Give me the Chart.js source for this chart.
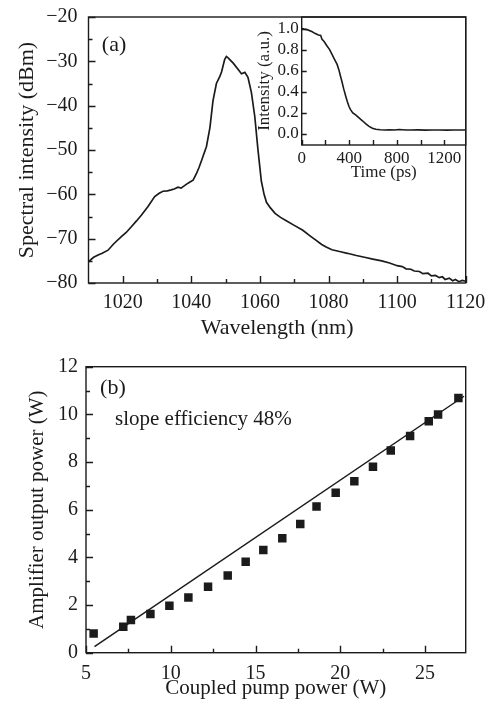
<!DOCTYPE html>
<html>
<head>
<meta charset="utf-8">
<title>Spectrum and amplifier output</title>
<script src="https://cdn.jsdelivr.net/npm/chart.js@4.4.0/dist/chart.umd.min.js"></script>
<style>
  html, body { margin: 0; padding: 0; background: #fff; }
  #wrap { position: relative; width: 495px; height: 709px; }
  canvas { position: absolute; }
  #specCanvas { left: 0; top: 0; }
  #insetCanvas { left: 230px; top: 0; }
  #powerCanvas { left: 0; top: 340px; }
</style>
</head>
<body>
<div id="wrap">
  <canvas id="specCanvas" width="495" height="340"></canvas>
  <canvas id="insetCanvas" width="265" height="190"></canvas>
  <canvas id="powerCanvas" width="495" height="369"></canvas>
</div>
<script>
// (a) spectrum
const wavelength = [1010, 1011.5, 1012.8, 1014, 1015.7, 1017.3, 1019.5, 1021, 1022.5, 1024, 1025.4, 1027.3,
  1029.3, 1030.5, 1031.7, 1033, 1034.1, 1035, 1036.1, 1037, 1038.6, 1039.6, 1040.5, 1041.5, 1042.2, 1043,
  1044.4, 1045.4, 1046.3, 1047.3, 1048.3, 1048.8, 1049.7, 1050.2, 1050.8, 1051.2, 1052.2, 1053.6, 1054.6,
  1055.6, 1056.5, 1057.5, 1058.5, 1059.4, 1060.4, 1061.2, 1061.9, 1063, 1064.4, 1066, 1067.8, 1070, 1072.5,
  1074.5, 1076.4, 1078, 1079.3, 1081, 1083.2, 1085.5, 1088.1, 1090.5, 1092.9, 1095.5, 1097.8, 1100, 1101.5,
  1102.6, 1104, 1105, 1106.5, 1107.5, 1109, 1110, 1111.2, 1112.3, 1113.2, 1114, 1115.2, 1116.2, 1117, 1118,
  1119, 1120];
const spectralDbm = [-75.2, -74.2, -73.7, -73.3, -72.6, -71.2, -69.6, -68.6, -67.3, -66.0, -64.7, -62.8,
  -60.5, -59.8, -59.3, -59.2, -59.0, -58.8, -58.4, -58.6, -57.7, -57.2, -56.8, -55.3, -54.0, -52.3,
  -49.2, -45.0, -38.9, -35.0, -33.4, -32.4, -29.6, -28.9, -29.3, -29.6, -30.4, -31.8, -32.8,
  -32.5, -33.6, -37.0, -42.5, -49.8, -57.0, -60.0, -61.8, -63.0, -64.3, -65.2, -66.0, -67.0, -68.1,
  -69.3, -70.4, -71.3, -71.9, -72.5, -72.9, -73.3, -73.8, -74.2, -74.6, -75.0, -75.5, -76.1, -76.3,
  -76.8, -76.9, -77.3, -77.4, -77.9, -77.8, -78.4, -78.3, -78.8, -78.6, -79.2, -78.9, -79.5, -79.2, -79.7,
  -79.4, -79.6];
const specXTicks = [1020, 1040, 1060, 1080, 1100, 1120];
const specXMinor = [1030, 1050, 1070, 1090, 1110];
const specYTicks = [-80, -70, -60, -50, -40, -30, -20];
const specYMinor = [-75, -65, -55, -45, -35, -25];

// (a) inset pulse
const timePs = [0, 20, 45, 85, 110, 141, 160, 170, 190, 213, 235, 255, 275, 298, 315, 326, 340, 354, 370,
  383, 398, 411, 430, 454, 480, 511, 540, 567, 595, 624, 660, 700, 737, 780, 820, 879, 920, 980, 1040,
  1100, 1160, 1220, 1280, 1340, 1380];
const pulseIntensity = [1.0, 0.995, 0.99, 0.972, 0.955, 0.94, 0.935, 0.9, 0.875, 0.835, 0.8, 0.755, 0.71,
  0.66, 0.6, 0.55, 0.49, 0.425, 0.36, 0.31, 0.26, 0.23, 0.2, 0.18, 0.155, 0.125, 0.095, 0.072, 0.055,
  0.045, 0.04, 0.038, 0.04, 0.037, 0.042, 0.038, 0.037, 0.039, 0.036, 0.038, 0.037, 0.036, 0.038, 0.037, 0.038];
const insetXTicks = [0, 400, 800, 1200];
const insetXMinor = [200, 600, 1000];
const insetYTicks = [0, 0.2, 0.4, 0.6, 0.8, 1.0];

// (b) amplifier output
const pumpPower = [5.45, 7.2, 7.65, 8.8, 9.92, 11.04, 12.2, 13.36, 14.42, 15.46, 16.58, 17.64, 18.6,
  19.73, 20.83, 21.93, 22.98, 24.12, 25.22, 25.77, 26.97];
const outputPower = [0.81, 1.09, 1.37, 1.62, 1.97, 2.32, 2.77, 3.24, 3.82, 4.31, 4.8, 5.4, 6.13,
  6.71, 7.19, 7.8, 8.48, 9.09, 9.71, 9.99, 10.69];
const fitPump = [5.5, 27.3];
const fitOutput = [0.25, 10.76];
const powerXTicks = [5, 10, 15, 20, 25];
const powerXMinor = [7.5, 12.5, 17.5, 22.5];
const powerYTicks = [0, 2, 4, 6, 8, 10, 12];
const powerYMinor = [1, 3, 5, 7, 9, 11];

const ink = '#1b1b1b';
const serif = '"Liberation Serif", "DejaVu Serif", serif';

function pts(xs, ys) {
  return xs.map((x, i) => ({ x: x, y: ys[i] }));
}
function minus(v) {
  return String(v).replace('-', '\u2212');
}

// box around the plot, inward ticks, panel notes
const frameTicks = {
  id: 'frameTicks',
  afterDatasetsDraw(chart, args, opts) {
    const ctx = chart.ctx;
    const a = chart.chartArea;
    const xs = chart.scales.x, ys = chart.scales.y;
    ctx.save();
    ctx.strokeStyle = ink;
    ctx.lineWidth = 1.4;
    ctx.strokeRect(a.left, a.top, a.right - a.left, a.bottom - a.top);
    ctx.beginPath();
    const xTick = (vals, len) => vals.forEach(v => {
      const p = Math.round(xs.getPixelForValue(v)) + 0.5;
      ctx.moveTo(p, a.bottom);
      ctx.lineTo(p, a.bottom - len);
    });
    const yTick = (vals, len) => vals.forEach(v => {
      const p = Math.round(ys.getPixelForValue(v)) + 0.5;
      ctx.moveTo(a.left, p);
      ctx.lineTo(a.left + len, p);
    });
    xTick(opts.xMajor, opts.major);
    xTick(opts.xMinor, opts.minor);
    yTick(opts.yMajor, opts.major);
    yTick(opts.yMinor, opts.minor);
    ctx.stroke();
    ctx.fillStyle = ink;
    ctx.textBaseline = 'middle';
    ctx.textAlign = 'left';
    opts.notes.forEach(n => {
      ctx.font = n.size + 'px ' + serif;
      ctx.fillText(n.text, xs.getPixelForValue(n.x), ys.getPixelForValue(n.y));
    });
    ctx.restore();
  }
};

function axis(o) {
  return {
    type: 'linear',
    min: o.min,
    max: o.max,
    afterBuildTicks: s => { s.ticks = o.ticks.map(v => ({ value: v })); },
    afterFit: s => {
      if (o.width) s.width = o.width;
      if (o.height) s.height = o.height;
      // keep label overhang from pushing the plot box
      s.paddingTop = 0; s.paddingBottom = 0;
      s.paddingLeft = 0; s.paddingRight = 0;
    },
    grid: { display: false, drawTicks: false },
    border: { display: false },
    ticks: {
      color: ink,
      font: { family: serif, size: o.tickSize },
      padding: o.pad,
      maxRotation: 0,
      autoSkip: false,
      callback: o.fmt
    },
    title: {
      display: true,
      text: o.title,
      color: ink,
      font: { family: serif, size: o.titleSize, lineHeight: 1 },
      padding: o.titlePad
    }
  };
}

const base = {
  responsive: false,
  animation: false,
  events: [],
  plugins: { legend: { display: false }, tooltip: { enabled: false } }
};

new Chart(document.getElementById('specCanvas'), {
  type: 'line',
  data: {
    datasets: [{
      data: pts(wavelength, spectralDbm),
      borderColor: ink,
      borderWidth: 1.7,
      pointRadius: 0,
      tension: 0
    }]
  },
  options: Object.assign({}, base, {
    layout: { padding: { top: 17, right: 29.3, left: 0, bottom: 0 } },
    scales: {
      x: axis({ min: 1010, max: 1120, ticks: specXTicks, height: 57, tickSize: 20, pad: 8,
        title: 'Wavelength (nm)', titleSize: 22, titlePad: { top: 0, bottom: 1 }, fmt: v => String(v) }),
      y: axis({ min: -80, max: -20, ticks: specYTicks, width: 88.5, tickSize: 20, pad: 11,
        title: 'Spectral intensity (dBm)', titleSize: 22, titlePad: { top: 16, bottom: 0 }, fmt: minus })
    },
    plugins: Object.assign({}, base.plugins, {
      frameTicks: {
        xMajor: specXTicks, xMinor: specXMinor, yMajor: specYTicks, yMinor: specYMinor,
        major: 7, minor: 4,
        notes: [{ text: '(a)', x: 1013.9, y: -26.3, size: 22 }]
      }
    })
  }),
  plugins: [frameTicks]
});

new Chart(document.getElementById('insetCanvas'), {
  type: 'line',
  data: {
    datasets: [{
      data: pts(timePs, pulseIntensity),
      borderColor: ink,
      borderWidth: 1.6,
      pointRadius: 0,
      tension: 0
    }]
  },
  options: Object.assign({}, base, {
    layout: { padding: { top: 17, right: 29.3, left: 0, bottom: 0 } },
    scales: {
      x: axis({ min: 0, max: 1380, ticks: insetXTicks, height: 45, tickSize: 17, pad: 3,
        title: 'Time (ps)', titleSize: 17, titlePad: { top: 0, bottom: 8.5 }, fmt: v => String(v) }),
      y: axis({ min: -0.105, max: 1.11, ticks: insetYTicks, width: 71.7, tickSize: 17, pad: 3,
        title: 'Intensity (a.u.)', titleSize: 17, titlePad: { top: 26.5, bottom: 0 }, fmt: v => v.toFixed(1) })
    },
    plugins: Object.assign({}, base.plugins, {
      frameTicks: {
        xMajor: insetXTicks, xMinor: insetXMinor, yMajor: insetYTicks, yMinor: [],
        major: 5, minor: 5, notes: []
      }
    })
  }),
  plugins: [frameTicks]
});

new Chart(document.getElementById('powerCanvas'), {
  data: {
    datasets: [{
      type: 'line',
      data: pts(fitPump, fitOutput),
      borderColor: ink,
      borderWidth: 1.5,
      pointRadius: 0,
      tension: 0,
      order: 2
    }, {
      type: 'scatter',
      data: pts(pumpPower, outputPower),
      pointStyle: 'rect',
      pointRadius: 6,
      backgroundColor: ink,
      borderWidth: 0,
      order: 1
    }]
  },
  options: Object.assign({}, base, {
    layout: { padding: { top: 26.7, right: 29.3, left: 0, bottom: 0 } },
    scales: {
      x: axis({ min: 5, max: 27.4, ticks: powerXTicks, height: 56.3, tickSize: 20, pad: 9,
        title: 'Coupled pump power (W)', titleSize: 21, titlePad: { top: 0, bottom: 10.5 }, fmt: v => String(v) }),
      y: axis({ min: 0, max: 12, ticks: powerYTicks, width: 86, tickSize: 20, pad: 8,
        title: 'Amplifier output power (W)', titleSize: 21, titlePad: { top: 26.5, bottom: 0 }, fmt: v => String(v) })
    },
    plugins: Object.assign({}, base.plugins, {
      frameTicks: {
        xMajor: powerXTicks, xMinor: powerXMinor, yMajor: powerYTicks, yMinor: powerYMinor,
        major: 7, minor: 4,
        notes: [
          { text: '(b)', x: 5.83, y: 11.1, size: 22 },
          { text: 'slope efficiency 48%', x: 6.71, y: 9.77, size: 21 }
        ]
      }
    })
  }),
  plugins: [frameTicks]
});
</script>
</body>
</html>
